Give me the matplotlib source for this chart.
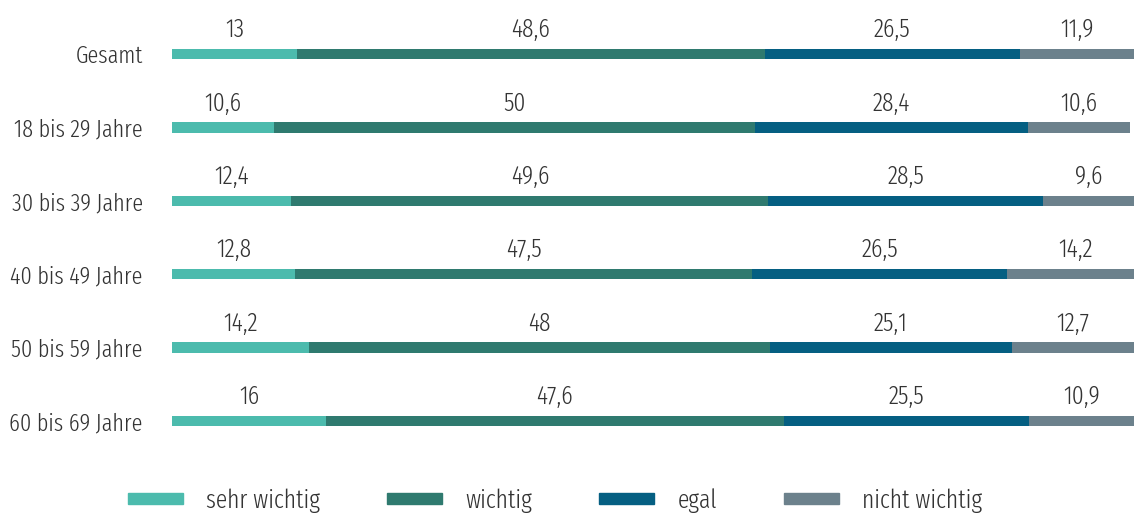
import numpy as np
import matplotlib.pyplot as plt
from matplotlib.patches import Patch

plt.rcParams['font.family'] = ['Fira Sans Extra Condensed', 'DejaVu Sans']
plt.rcParams['font.weight'] = 300

groups = ['Gesamt', '18 bis 29 Jahre', '30 bis 39 Jahre', '40 bis 49 Jahre',
          '50 bis 59 Jahre', '60 bis 69 Jahre']
sehr_wichtig = [13, 10.6, 12.4, 12.8, 14.2, 16]
wichtig = [48.6, 50, 49.6, 47.5, 48, 47.6]
egal = [26.5, 28.4, 28.5, 26.5, 25.1, 25.5]
nicht_wichtig = [11.9, 10.6, 9.6, 14.2, 12.7, 10.9]

series = [('sehr wichtig', sehr_wichtig, '#4cbbad'),
          ('wichtig', wichtig, '#2f7a6f'),
          ('egal', egal, '#055f82'),
          ('nicht wichtig', nicht_wichtig, '#6c818c')]

fig = plt.figure(figsize=(11.34, 5.13), dpi=100)
ax = fig.add_axes([172 / 1134, 1 - 457.7 / 513, 1 - 172 / 1134, (457.7 - 17.3) / 513])

y = np.arange(len(groups))
left = np.zeros(len(groups))
for name, vals, col in series:
    vals = np.array(vals)
    ax.barh(y, vals, left=left, height=0.14, color=col, label=name)
    for yi, l, v in zip(y, left, vals):
        lab = ('%g' % v).replace('.', ',')
        ax.text(l + v / 2, yi - 0.16, lab, ha='center', va='bottom',
                fontsize=18.5, color='#333333')
    left += vals

ax.set_xlim(0, 100)
ax.set_ylim(5.5, -0.5)
ax.set_yticks(y)
ax.set_yticklabels(groups, fontsize=17.5, color='#333333')
ax.tick_params(axis='y', length=0, pad=21)
ax.set_xticks([])
for s in ax.spines.values():
    s.set_visible(False)

handles = [Patch(color=c, label=n) for n, v, c in series]
fig.legend(handles=handles, loc='lower left', bbox_to_anchor=(128 / 1134, 0.0),
           borderpad=0, borderaxespad=0,
           ncol=4, frameon=False, fontsize=18.5, handlelength=2.15, handleheight=0.3,
           handletextpad=0.9, columnspacing=2.6, labelcolor='#333333')

fig.savefig('out.png', dpi=100)
